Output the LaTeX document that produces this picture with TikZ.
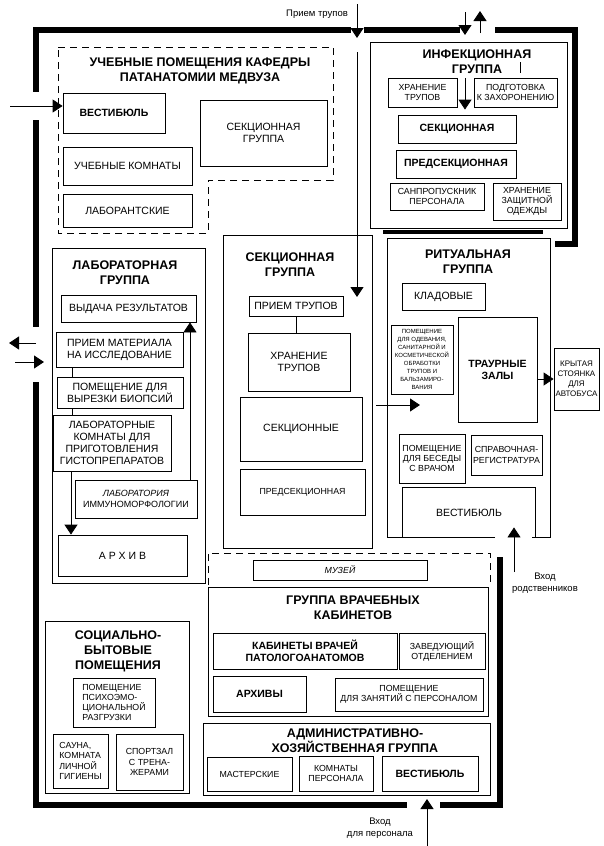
\documentclass[tikz,border=0pt]{standalone}
\usepackage{fontspec}
\setmainfont{Liberation Sans}
\usetikzlibrary{arrows.meta}
\newcommand\fsm{\fontsize{8.8}{10.2}\selectfont}
\newcommand\fbx{\fontsize{10.5}{12}\selectfont}
\newcommand\fbxb{\fontsize{10.5}{12}\selectfont\bfseries}
\newcommand\rbox[7][]{\node[box,minimum width={#5pt-#3pt},minimum height={#6pt-#4pt},#1] (#2) at ({(#3+#5)/2},{(#4+#6)/2}) {#7};}
\begin{document}
\begin{tikzpicture}[x=1pt,y=-1pt,
  box/.style={draw,line width=0.8pt,inner sep=1pt,align=center,font=\fbx},
  ttl/.style={font=\fontsize{12.5}{15}\selectfont\bfseries,align=center,inner sep=0pt},
  wall/.style={line width=6pt},
  dsh/.style={line width=0.8pt,dash pattern=on 7pt off 5pt},
  arr/.style={line width=0.8pt,-{Triangle[width=13pt,length=10pt]}},
  lnk/.style={line width=0.8pt},
  lbl/.style={font=\fontsize{9.5}{11.5}\selectfont,align=center,inner sep=0pt}]
\useasboundingbox (0,0) rectangle (604,846);

% ---------- outer walls ----------
\draw[wall] (33,30) -- (351,30);
\draw[wall] (364,30) -- (460,30);
\draw[wall,line join=miter] (495,30) -- (575,30) -- (575,244) -- (555,244);
\draw[line width=4pt] (383,232) -- (543,232);
\draw[wall] (36,27) -- (36,92);
\draw[wall] (36,120) -- (36,327);
\draw[wall] (36,382) -- (36,808);
\draw[wall] (33,805) -- (407,805);
\draw[wall,line join=miter] (440,805) -- (500,805) -- (500,557);

% ---------- teaching rooms (dashed) ----------
\draw[dsh] (58,47) -- (333,47) -- (333,180) -- (208,180) -- (208,233) -- (58,233) -- cycle;
\node[ttl] (utitle) at (200,71) {УЧЕБНЫЕ ПОМЕЩЕНИЯ КАФЕДРЫ\\ПАТАНАТОМИИ МЕДВУЗА};
\rbox[font=\fbxb]{uvest}{63}{93}{165}{133}{ВЕСТИБЮЛЬ}
\rbox{usek}{200}{100}{327}{166}{СЕКЦИОННАЯ\\ГРУППА}
\rbox{ukom}{63}{147}{192}{185}{УЧЕБНЫЕ КОМНАТЫ}
\rbox{ulab}{63}{194}{192}{227}{ЛАБОРАНТСКИЕ}
\coordinate (ua) at (10,106);
\draw[arr] (ua) -- (uvest.west |- ua) ;

% ---------- infection group ----------
\rbox[line width=1pt]{inf}{370}{42}{567}{228}{}
\node[ttl] (ititle) at (477,62) {ИНФЕКЦИОННАЯ\\ГРУППА};
\rbox[font=\fsm]{ixr}{388}{78}{457}{107}{ХРАНЕНИЕ\\ТРУПОВ}
\rbox[font=\fsm]{ipod}{474}{78}{557}{107}{ПОДГОТОВКА\\К ЗАХОРОНЕНИЮ}
\rbox[font=\fbxb]{isek}{398}{115}{516}{143}{СЕКЦИОННАЯ}
\rbox[font=\fbxb]{ipred}{396}{150}{516}{178}{ПРЕДСЕКЦИОННАЯ}
\rbox[font=\fsm]{isan}{390}{183}{484}{210}{САНПРОПУСКНИК\\ПЕРСОНАЛА}
\rbox[font=\fsm]{ihr}{493}{183}{561}{220}{ХРАНЕНИЕ\\ЗАЩИТНОЙ\\ОДЕЖДЫ}
\coordinate (ia) at (465,78);
\draw[arr] (ia) -- ([yshift=5pt]isek.north -| ia);
\coordinate (ib1) at (520,62); \coordinate (ib2) at (520,73);
\draw[lnk] (ib1) -- (ib2);
\coordinate (ta1) at (465,12); \coordinate (ta2) at (465,35);
\draw[arr] (ta1) -- (ta2);
\coordinate (tb1) at (480,33); \coordinate (tb2) at (480,11);
\draw[arr] (tb1) -- (tb2);

% ---------- section group ----------
\node[lbl] (priem) at (317,14) {Прием трупов};
\coordinate (pa1) at (357,4); \coordinate (pa2) at (357,38);
\draw[arr] (pa1) -- (pa2);
\rbox[line width=1pt]{sg}{223}{235}{372}{548}{}
\node[ttl] (stitle) at (290,265) {СЕКЦИОННАЯ\\ГРУППА};
\rbox{spr}{249}{296}{343}{316}{ПРИЕМ ТРУПОВ}
\rbox{sxr}{248}{333}{350}{391}{ХРАНЕНИЕ\\ТРУПОВ}
\rbox{ssek}{240}{397}{362}{461}{СЕКЦИОННЫЕ}
\rbox[font=\fsm]{spred}{240}{469}{365}{515}{ПРЕДСЕКЦИОННАЯ}
\draw[lnk] (spr.south) -- (spr.south |- sxr.north);
\coordinate (pb1) at (357,52); \coordinate (pb2) at (357,297);
\draw[arr] (pb1) -- (pb2);

% ---------- ritual group ----------
\draw[line width=1pt] (495,537) -- (387,537) -- (387,238) -- (550,238) -- (550,537) -- (532,537);
\node[ttl] (rtitle) at (468,262) {РИТУАЛЬНАЯ\\ГРУППА};
\rbox{rklad}{402}{283}{485}{310}{КЛАДОВЫЕ}
\rbox[font=\fontsize{6}{8}\selectfont]{rpom}{391}{325}{453}{394}{ПОМЕЩЕНИЕ\\ДЛЯ ОДЕВАНИЯ,\\САНИТАРНОЙ И\\КОСМЕТИЧЕСКОЙ\\ОБРАБОТКИ\\ТРУПОВ И\\БАЛЬЗАМИРО-\\ВАНИЯ}
\rbox[font=\fbxb]{rzal}{458}{317}{537}{422}{ТРАУРНЫЕ\\ЗАЛЫ}
\rbox[font=\fontsize{8}{10}\selectfont]{rstoy}{554}{348}{599}{410}{КРЫТАЯ\\СТОЯНКА\\ДЛЯ\\АВТОБУСА}
\rbox[font=\fsm]{rbes}{399}{434}{465}{483}{ПОМЕЩЕНИЕ\\ДЛЯ БЕСЕДЫ\\С ВРАЧОМ}
\rbox[font=\fsm]{rspr}{471}{435}{542}{475}{СПРАВОЧНАЯ-\\РЕГИСТРАТУРА}
\rbox[draw=none]{rvest}{403}{488}{535}{537}{ВЕСТИБЮЛЬ}
\draw[line width=0.8pt] (rvest.south west) -- (rvest.north west) -- (rvest.north east) -- (rvest.south east);
\coordinate (ra1) at (376,405); \coordinate (ra2) at (420,405);
\draw[arr] (ra1) -- (ra2);
\draw[arr] (rzal.east |- rstoy.west) -- (rstoy.west);
\coordinate (vr) at (514,572);
\draw[arr] (vr) -- ([yshift=10pt]rvest.south -| vr);
\node[lbl] (vhodr) at (545,583) {Вход\\родственников};

% ---------- laboratory group ----------
\rbox[line width=1pt]{lg}{52}{248}{205}{583}{}
\node[ttl] (ltitle) at (125,273) {ЛАБОРАТОРНАЯ\\ГРУППА};
\rbox{lvyd}{61}{295}{196}{322}{ВЫДАЧА РЕЗУЛЬТАТОВ}
\rbox{lpri}{56}{332}{183}{367}{ПРИЕМ МАТЕРИАЛА\\НА ИССЛЕДОВАНИЕ}
\rbox{lpom}{57}{377}{183}{408}{ПОМЕЩЕНИЕ ДЛЯ\\ВЫРЕЗКИ БИОПСИЙ}
\rbox{lkom}{53}{415}{171}{471}{ЛАБОРАТОРНЫЕ\\КОМНАТЫ ДЛЯ\\ПРИГОТОВЛЕНИЯ\\ГИСТОПРЕПАРАТОВ}
\rbox[font=\fontsize{9}{11}\selectfont]{limm}{75}{480}{197}{518}{\textit{ЛАБОРАТОРИЯ}\\ИММУНОМОРФОЛОГИИ}
\rbox{larh}{58}{535}{187}{576}{А Р Х И В}
\draw[lnk] (lpri.south -| 72,0) -- (lpom.north -| 72,0);
\draw[lnk] (lpom.south -| 72,0) -- (lkom.north -| 72,0);
\draw[arr] (lkom.south -| 71,0) -- (larh.north -| 71,0);
\draw[arr] (limm.north -| 190,0) -- (lvyd.south -| 190,0);
\coordinate (la1) at (36,343); \coordinate (la2) at (9,343);
\draw[arr] (la1) -- (la2);
\coordinate (la3) at (15,362); \coordinate (la4) at (44,362);
\draw[arr] (la3) -- (la4);

% ---------- social group ----------
\rbox[line width=1pt]{sb}{45}{621}{189}{793}{}
\node[ttl] (btitle) at (118,651) {СОЦИАЛЬНО-\\БЫТОВЫЕ\\ПОМЕЩЕНИЯ};
\rbox[font=\fsm,align=left]{spsy}{73}{678}{155}{727}{ПОМЕЩЕНИЕ\\ПСИХОЭМО-\\ЦИОНАЛЬНОЙ\\РАЗГРУЗКИ}
\rbox[font=\fsm,align=left]{ssau}{53}{734}{108}{788}{САУНА,\\КОМНАТА\\ЛИЧНОЙ\\ГИГИЕНЫ}
\rbox[font=\fsm]{sspo}{116}{734}{183}{790}{СПОРТЗАЛ\\С ТРЕНА-\\ЖЕРАМИ}

% ---------- museum ----------
\draw[dsh] (208,585) -- (208,553) -- (490,553) -- (490,585);
\rbox[font=\fsm\itshape]{muz}{253}{560}{427}{580}{МУЗЕЙ}

% ---------- doctors' offices ----------
\rbox[line width=1pt]{vg}{208}{587}{488}{716}{}
\node[ttl] (vtitle) at (353,608) {ГРУППА ВРАЧЕБНЫХ\\КАБИНЕТОВ};
\rbox[font=\fbxb]{vkab}{213}{633}{397}{669}{КАБИНЕТЫ ВРАЧЕЙ\\ПАТОЛОГОАНАТОМОВ}
\rbox[font=\fsm]{vzav}{399}{633}{485}{669}{ЗАВЕДУЮЩИЙ\\ОТДЕЛЕНИЕМ}
\rbox[font=\fbxb]{varh}{213}{676}{306}{712}{АРХИВЫ}
\rbox[font=\fsm]{vpom}{335}{678}{483}{711}{ПОМЕЩЕНИЕ\\ДЛЯ ЗАНЯТИЙ С ПЕРСОНАЛОМ}

% ---------- administrative group ----------
\rbox[line width=1pt]{ag}{203}{723}{490}{795}{}
\node[ttl] (atitle) at (355,741) {АДМИНИСТРАТИВНО-\\ХОЗЯЙСТВЕННАЯ ГРУППА};
\rbox[font=\fsm]{amas}{207}{757}{292}{791}{МАСТЕРСКИЕ}
\rbox[font=\fsm]{akom}{299}{756}{373}{791}{КОМНАТЫ\\ПЕРСОНАЛА}
\rbox[font=\fbxb]{avest}{382}{756}{478}{791}{ВЕСТИБЮЛЬ}
\coordinate (vp1) at (427,846); \coordinate (vp2) at (427,799);
\draw[arr] (vp1) -- (vp2);
\node[lbl] (vhodp) at (380,828) {Вход\\для персонала};
\end{tikzpicture}
\end{document}
